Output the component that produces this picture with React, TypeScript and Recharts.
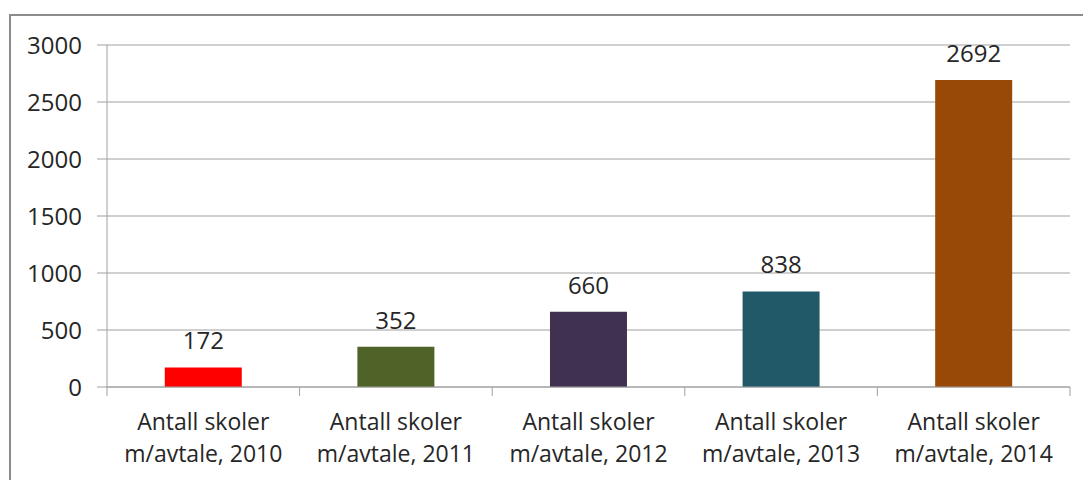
import React from 'react';
import { BarChart, Bar, XAxis, YAxis, CartesianGrid, Cell, LabelList } from 'recharts';

const categories = [
  'Antall skoler m/avtale, 2010',
  'Antall skoler m/avtale, 2011',
  'Antall skoler m/avtale, 2012',
  'Antall skoler m/avtale, 2013',
  'Antall skoler m/avtale, 2014',
];
const values = [172, 352, 660, 838, 2692];
const barColors = ['#ff0000', '#4f6228', '#403151', '#215968', '#984807'];
const yTicks = [0, 500, 1000, 1500, 2000, 2500, 3000];

const data = categories.map((name, i) => ({ name, value: values[i] }));

const W = 1083;
const H = 480;
const margin = { top: 45, right: 13, bottom: 0, left: 0 };
const yAxisWidth = 107;
const xAxisHeight = 93;
const plotW = W - margin.left - margin.right - yAxisWidth;
const band = plotW / categories.length;
const FONT = '"Open Sans", "Noto Sans", sans-serif';
const AXIS = '#a0a0a0';
const TEXT = '#262626';

function XTick(props: any) {
  const { x, y, payload, index } = props;
  const text: string = payload.value;
  const cut = text.indexOf(' m/');
  const line1 = text.slice(0, cut);
  const line2 = text.slice(cut + 1);
  const left = x - band / 2;
  return (
    <g>
      <line x1={left} x2={left} y1={y} y2={y + 9} stroke={AXIS} strokeWidth={1} />
      {index === categories.length - 1 && (
        <line x1={left + band} x2={left + band} y1={y} y2={y + 9} stroke={AXIS} strokeWidth={1} />
      )}
      <text x={x} y={y + 43} textAnchor="middle" fill={TEXT} fontSize={23} fontFamily={FONT}>
        {line1}
      </text>
      <text x={x} y={y + 75} textAnchor="middle" fill={TEXT} fontSize={23} fontFamily={FONT}>
        {line2}
      </text>
    </g>
  );
}

export default function App() {
  return (
    <div style={{ position: 'absolute', left: 0, top: 0, width: W, height: H, overflow: 'hidden', background: '#fff' }}>
      <div
        style={{
          position: 'absolute',
          left: 9,
          top: 14,
          width: W + 40,
          height: H + 40,
          border: '2px solid #8c8c8c',
          boxSizing: 'border-box',
        }}
      />
      <div style={{ position: 'absolute', left: 0, top: 0 }}>
        <BarChart width={W} height={H} data={data} margin={margin} barCategoryGap="30%">
          <CartesianGrid vertical={false} stroke={AXIS} strokeWidth={1} />
          <XAxis
            dataKey="name"
            height={xAxisHeight}
            tickLine={false}
            tickSize={0}
            tickMargin={0}
            axisLine={{ stroke: AXIS }}
            interval={0}
            tick={<XTick />}
          />
          <YAxis
            width={yAxisWidth}
            domain={[0, 3000]}
            ticks={yTicks}
            interval={0}
            tickSize={10}
            tickMargin={15}
            tickLine={{ stroke: AXIS }}
            axisLine={{ stroke: AXIS }}
            tick={{ fill: TEXT, fontSize: 24, fontFamily: FONT }}
          />
          <Bar dataKey="value" isAnimationActive={false}>
            {data.map((d, i) => (
              <Cell key={d.name} fill={barColors[i]} />
            ))}
            <LabelList
              dataKey="value"
              position="top"
              offset={18}
              fill={TEXT}
              fontSize={24}
              fontFamily={FONT}
            />
          </Bar>
        </BarChart>
      </div>
    </div>
  );
}
